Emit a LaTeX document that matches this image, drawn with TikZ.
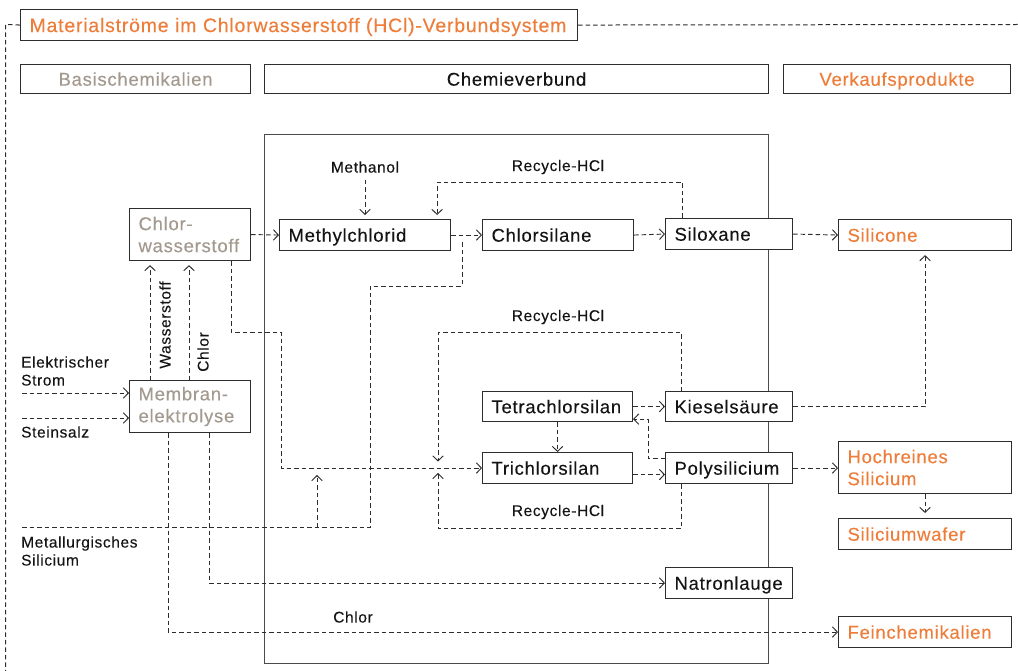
\documentclass[tikz,border=0pt]{standalone}
\usepackage{fontspec}
\setmainfont{Liberation Sans}[LetterSpace=4,FakeBold=0.15]
\usetikzlibrary{arrows.meta}
\definecolor{orng}{RGB}{238,125,58}
\definecolor{wgray}{RGB}{163,153,142}
\definecolor{lin}{RGB}{45,45,45}
\definecolor{bigline}{RGB}{75,75,75}
\definecolor{txt}{RGB}{20,20,20}
\newcommand\nodefnt{\fontsize{18.5}{22}\selectfont}
\newcommand\lblfnt{\fontsize{15.5}{18}\selectfont}
\newcommand\titlefnt{\fontsize{19.5}{22}\selectfont}
\begin{document}
\begin{tikzpicture}[x=1pt,y=-1pt,
  box/.style={draw=lin, line width=1.1pt, fill=white, anchor=north west, inner xsep=9pt, inner ysep=0pt, align=left, font=\nodefnt, text=txt},
  one/.style={text height=13.3pt, text depth=0pt},
  lbl/.style={font=\lblfnt, text=txt, inner sep=0pt},
  dline/.style={draw=lin, line width=0.95pt, dash pattern=on 4.5pt off 3pt},
  flow/.style={dline, -{Straight Barb[length=5pt,width=10.5pt]}}]
\useasboundingbox (0,0) rectangle (1018,671);

% big Chemieverbund frame
\node[draw=bigline, line width=1.3pt, anchor=north west, minimum width=504pt, minimum height=529pt, inner sep=0pt] (cbox) at (264,134) {};

% headers
\node[box, one, text height=14pt, text width=539pt, minimum height=31pt, text=orng, font=\titlefnt] (title) at (20,9) {\mbox{Materialströme im Chlorwasserstoff (HCl)-Verbundsystem}};
\node[box, one, text width=212pt, minimum height=29pt, align=center, text=wgray] (basis) at (20,64) {Basischemikalien};
\node[box, one, text width=486pt, minimum height=29pt, align=center] (chemh) at (264,64) {Chemieverbund};
\node[box, one, text width=209pt, minimum height=29pt, align=center, text=orng] (verk) at (783,64) {Verkaufsprodukte};

% outer dashed frame
\draw[dline, line width=1pt] (title.west) -- (5.5,24.5) -- (5.5,671);
\draw[dline, line width=1pt] (title.east) -- (1018,24.5);

% free labels
\node[lbl] (meth) at (365,167) {Methanol};
\node[lbl] (rc1) at (558,167) {Recycle-HCl};
\node[lbl] (rc2) at (558,317) {Recycle-HCl};
\node[lbl] (rc3) at (558,512) {Recycle-HCl};
\node[lbl, anchor=west, align=left] (estrom) at (21,371) {Elektrischer\\Strom};
\node[lbl, anchor=west] (stein) at (21,432) {Steinsalz};
\node[lbl, anchor=west, align=left] (metsi) at (21,551) {Metallurgisches\\Silicium};
\node[lbl, rotate=90] (wst) at (165,325) {Wasserstoff};
\node[lbl, rotate=90] (chl1) at (203,352) {Chlor};
\node[lbl] (chl2) at (353,617) {Chlor};

\coordinate (es) at (22,393);
\coordinate (ss) at (22,418);
\coordinate (ms) at (22,527);

% flows drawn before boxes (boxes are white-filled)
\draw[dline] (ms) -- (370,527) -- (370,286) -- (462,286) -- (462,241);
\draw[flow] (317,527) -- (317,475);

% nodes
\node[box, text width=103pt, minimum height=52pt, text=wgray] (hcl) at (129,208) {Chlor-\\wasserstoff};
\node[box, text width=103pt, minimum height=52pt, text=wgray] (memb) at (129,380) {Membran-\\elektrolyse};
\node[box, one, text width=153pt, minimum height=31pt] (mc) at (279,219) {Methylchlorid};
\node[box, one, text width=133pt, minimum height=31pt] (cs) at (482,219) {Chlorsilane};
\node[box, one, text width=109pt, minimum height=31pt] (sx) at (665,218) {Siloxane};
\node[box, one, text width=155pt, minimum height=31pt, text=orng] (sil) at (838,219) {Silicone};
\node[box, one, text width=132pt, minimum height=30pt] (tet) at (482,391) {Tetrachlorsilan};
\node[box, one, text width=132pt, minimum height=31pt] (tri) at (482,452) {Trichlorsilan};
\node[box, one, text width=109pt, minimum height=30pt] (kies) at (665,391) {Kieselsäure};
\node[box, one, text width=109pt, minimum height=31pt] (poly) at (665,452) {Polysilicium};
\node[box, text width=155pt, minimum height=52pt, text=orng] (hoch) at (838,441) {Hochreines\\Silicium};
\node[box, one, text width=155pt, minimum height=31pt, text=orng] (wafer) at (838,518) {Siliciumwafer};
\node[box, one, text width=109pt, minimum height=31pt] (natron) at (665,567) {Natronlauge};
\node[box, one, text width=155pt, minimum height=31pt, text=orng] (fein) at (838,616) {Feinchemikalien};

% connectors
\draw[flow] (es) -- (es -| memb.west);
\draw[flow] (ss) -- (ss -| memb.west);
\draw[flow, shorten >=4pt] ([xshift=21pt]memb.north west) -- ([xshift=21pt]memb.north west |- hcl.south);
\draw[flow, shorten >=4pt] ([xshift=60pt]memb.north west) -- ([xshift=60pt]memb.north west |- hcl.south);
\draw[flow] (hcl.east) -- (mc.west);
\draw[flow] (mc.east) -- (cs.west);
\draw[flow] (cs.east) -- (sx.west);
\draw[flow] (sx.east) -- (sil.west);
\draw[flow, shorten <=7pt, shorten >=4pt] (meth.south) -- (meth.south |- mc.north);
\draw[flow, shorten >=4pt] ([xshift=17pt]sx.north west) -- ++(0,-36) -| ([xshift=-14pt]mc.north east);
\draw[flow] ([xshift=-20pt]hcl.south east) |- (281,332) |- (tri.west);
\draw[flow] ([xshift=16pt]kies.north west) -- ++(0,-59) -| (438,461.5);
\draw[flow] ([xshift=16pt]poly.south west) -- ++(0,44.5) -| (438,473);
\draw[flow] (tet.east) -- (kies.west);
\draw[flow] (tet.south) -- (tri.north);
\draw[flow] ([yshift=-6.5pt]tri.east) -- ([yshift=-6.5pt]tri.east -| poly.west);
\draw[flow] ([yshift=9.5pt]poly.west) -- ++(-17,0) |- ([yshift=3pt]tet.south east);
\draw[flow, shorten >=4pt] (kies.east) -| (sil.south);
\draw[flow] (poly.east) -- (poly.east -| hoch.west);
\draw[flow, shorten >=5pt] (hoch.south) -- (wafer.north);
\draw[flow] ([xshift=-42pt]memb.south east) |- (natron.west);
\draw[flow] ([xshift=39pt]memb.south west) |- (fein.west);
\end{tikzpicture}
\end{document}
